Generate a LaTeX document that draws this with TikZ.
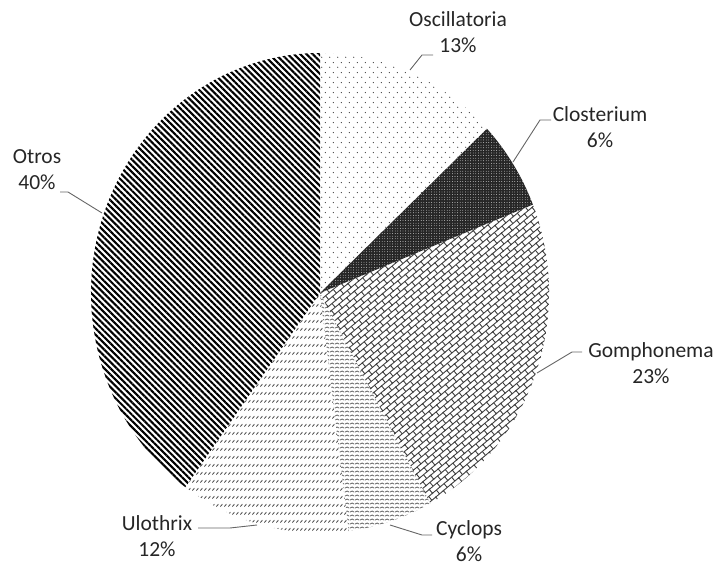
\documentclass[tikz,border=0pt]{standalone}
\usepackage{fontspec}
\setmainfont{Carlito}
\usetikzlibrary{patterns,patterns.meta}

\pgfdeclarepattern{
  name=oscdots, type=uncolored,
  bottom left={\pgfpoint{0pt}{0pt}}, top right={\pgfpoint{8pt}{10pt}},
  tile size={\pgfpoint{8pt}{10pt}},
  code={
    \pgfpathcircle{\pgfpoint{2pt}{2pt}}{0.7pt}
    \pgfpathcircle{\pgfpoint{6pt}{7pt}}{0.7pt}
    \pgfusepath{fill}
  }
}
\pgfdeclarepattern{
  name=dbricks, type=uncolored,
  bottom left={\pgfpoint{-1pt}{-1pt}}, top right={\pgfpoint{11pt}{11pt}},
  tile size={\pgfpoint{10pt}{10pt}},
  tile transformation={\pgftransformrotate{40}},
  code={
    \pgfsetlinewidth{0.9pt}
    \pgfpathmoveto{\pgfpoint{-1pt}{0pt}}\pgfpathlineto{\pgfpoint{11pt}{0pt}}
    \pgfpathmoveto{\pgfpoint{-1pt}{5pt}}\pgfpathlineto{\pgfpoint{11pt}{5pt}}
    \pgfpathmoveto{\pgfpoint{0pt}{0pt}}\pgfpathlineto{\pgfpoint{0pt}{5pt}}
    \pgfpathmoveto{\pgfpoint{5pt}{5pt}}\pgfpathlineto{\pgfpoint{5pt}{10pt}}
    \pgfusepath{stroke}
  }
}
\pgfdeclarepattern{
  name=cycwaves, type=uncolored,
  bottom left={\pgfpoint{0pt}{0pt}}, top right={\pgfpoint{5pt}{4pt}},
  tile size={\pgfpoint{5pt}{4pt}},
  code={
    \pgfsetlinewidth{0.75pt}
    \pgfpathmoveto{\pgfpoint{0pt}{1pt}}
    \pgfpathlineto{\pgfpoint{2.5pt}{2.6pt}}
    \pgfpathlineto{\pgfpoint{5pt}{1pt}}
    \pgfusepath{stroke}
  }
}
\pgfdeclarepattern{
  name=ulodash, type=uncolored,
  bottom left={\pgfpoint{0pt}{0pt}}, top right={\pgfpoint{4pt}{7.5pt}},
  tile size={\pgfpoint{4pt}{7.5pt}},
  code={
    \pgfsetlinewidth{1pt}
    \pgfpathmoveto{\pgfpoint{0.5pt}{0.5pt}}
    \pgfpathlineto{\pgfpoint{3pt}{3pt}}
    \pgfusepath{stroke}
  }
}

\begin{document}
\begin{tikzpicture}[x=1pt,y=-1pt,
  lbl/.style={align=center, inner sep=0pt, text=black!85, font=\fontsize{21.5}{26}\selectfont},
  leader/.style={draw=black!60, line width=0.9pt},
  rx/.style={x radius=229, y radius=240}]
\useasboundingbox (0,0) rectangle (722,569);
\coordinate (C) at (320,293);

% slices (xy angles, y axis points down)
\fill[pattern=oscdots, pattern color=black!75]
  (C) -- ([shift={(C)}]-90:229 and 240) arc[start angle=-90, end angle=-43.2, rx] -- cycle;
\fill[black!85]
  (C) -- ([shift={(C)}]-43.2:229 and 240) arc[start angle=-43.2, end angle=-21.6, rx] -- cycle;
\fill[pattern={Dots[radius=0.4pt, distance=2.6pt]}, pattern color=white]
  (C) -- ([shift={(C)}]-43.2:229 and 240) arc[start angle=-43.2, end angle=-21.6, rx] -- cycle;
\fill[pattern=dbricks, pattern color=black!75]
  (C) -- ([shift={(C)}]-21.6:229 and 240) arc[start angle=-21.6, end angle=61.2, rx] -- cycle;
\fill[pattern=cycwaves, pattern color=black!75]
  (C) -- ([shift={(C)}]61.2:229 and 240) arc[start angle=61.2, end angle=82.8, rx] -- cycle;
\fill[pattern=ulodash, pattern color=black!70]
  (C) -- ([shift={(C)}]82.8:229 and 240) arc[start angle=82.8, end angle=126, rx] -- cycle;
\fill[pattern={Lines[angle=-45, distance=4.4pt, line width=2.1pt]}, pattern color=black]
  (C) -- ([shift={(C)}]126:229 and 240) arc[start angle=126, end angle=270, rx] -- cycle;

% labels
\node[lbl] (osc) at (458,32) {Oscillatoria\\13\%};
\node[lbl] (clo) at (600,127) {Closterium\\6\%};
\node[lbl] (gom) at (651,363) {Gomphonema\\23\%};
\node[lbl] (cyc) at (469,541) {Cyclops\\6\%};
\node[lbl] (ulo) at (157,536) {Ulothrix\\12\%};
\node[lbl] (otr) at (37,170) {Otros\\40\%};

% leader lines
\coordinate (oscA) at (410,70);  \coordinate (oscB) at (422,55);  \coordinate (oscE) at (433,55);
\coordinate (cloA) at (513,162); \coordinate (cloB) at (540,120); \coordinate (cloE) at (551,120);
\coordinate (gomA) at (537,373); \coordinate (gomB) at (572,352); \coordinate (gomE) at (582,352);
\coordinate (cycA) at (390,525); \coordinate (cycB) at (422,535); \coordinate (cycE) at (432,535);
\coordinate (uloA) at (257,525); \coordinate (uloB) at (230,528); \coordinate (uloE) at (198,528);
\coordinate (otrA) at (102,213); \coordinate (otrB) at (68,192);  \coordinate (otrE) at (60,192);
\draw[leader] (oscA) -- (oscB) -- (oscE);
\draw[leader] (cloA) -- (cloB) -- (cloE);
\draw[leader] (gomA) -- (gomB) -- (gomE);
\draw[leader] (cycA) -- (cycB) -- (cycE);
\draw[leader] (uloA) -- (uloB) -- (uloE);
\draw[leader] (otrA) -- (otrB) -- (otrE);
\end{tikzpicture}
\end{document}
